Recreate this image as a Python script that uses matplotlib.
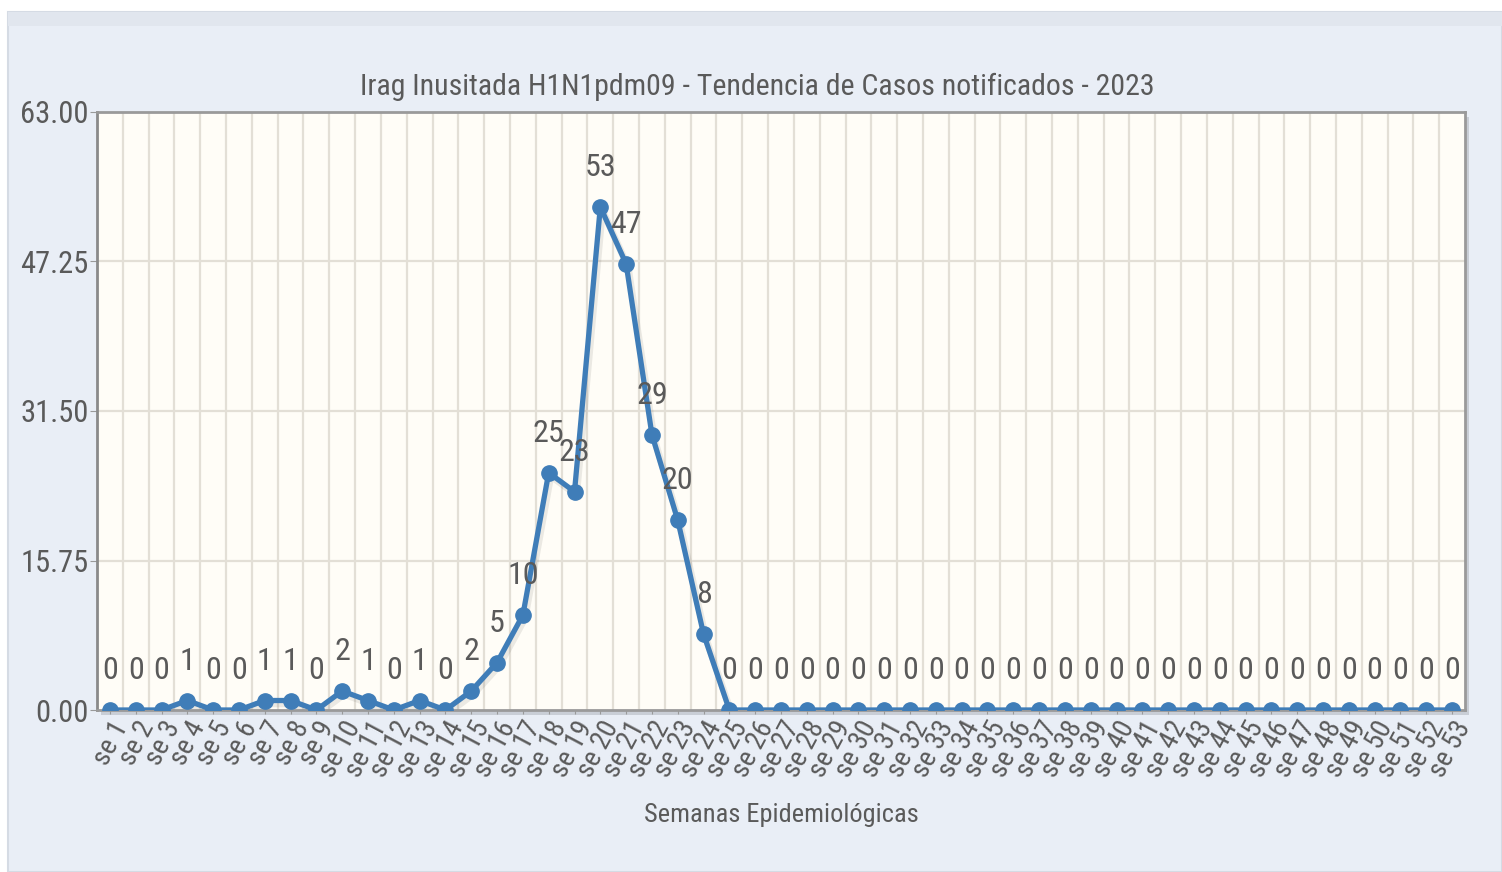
import numpy as np
import matplotlib.pyplot as plt
from matplotlib.patches import Rectangle
from matplotlib import font_manager

# ====== DATA ======
semanas = list(range(1, 54))
casos = [0, 0, 0, 1, 0, 0, 1, 1, 0, 2, 1, 0, 1, 0, 2, 5, 10, 25, 23, 53, 47, 29, 20, 8] + [0] * 29
y_ticks = [0.00, 15.75, 31.50, 47.25, 63.00]
titulo = 'Irag Inusitada H1N1pdm09 - Tendencia de Casos notificados - 2023'
x_titulo = 'Semanas Epidemiológicas'
# ==================

line_color = '#3f7db8'
text_color = '#5a5a5a'
grid_color = '#e3dfd6'

names = {f.name for f in font_manager.fontManager.ttflist}
fam = ['DejaVu Sans']
for cand in ['Roboto Condensed', 'Liberation Sans Narrow', 'Open Sans Condensed']:
    if cand in names:
        fam = [cand, 'DejaVu Sans']
        break
plt.rcParams['font.family'] = fam
plt.rcParams['font.stretch'] = 'condensed'

fig = plt.figure(figsize=(15.02, 8.72), dpi=100)
fig.patch.set_facecolor('white')
# panel background
fig.patches.append(Rectangle((8 / 1502, 0), 1 - 8 / 1502, 1 - 12 / 872, transform=fig.transFigure,
                             facecolor='#e9eef6', edgecolor='#d5dbe4', lw=1.5, zorder=-10))
fig.patches.append(Rectangle((8 / 1502, 1 - 26 / 872), 1 - 8 / 1502, 14 / 872, transform=fig.transFigure,
                             facecolor='#e1e6ee', edgecolor='none', zorder=-10))

left, right, top, bottom = 97, 1465, 112, 710
# drop shadow of the plot box
fig.patches.append(Rectangle(((left + 4) / 1502, 1 - (bottom + 5) / 872), (right - left) / 1502,
                             (bottom - top) / 872, transform=fig.transFigure,
                             facecolor='#c9ced6', edgecolor='none', zorder=-5))

ax = fig.add_axes([left / 1502, 1 - bottom / 872, (right - left) / 1502, (bottom - top) / 872])
ax.set_facecolor('#fffdf7')

x = np.array(semanas)
y = np.array(casos)

# shadow under the line
ax.plot(x + 0.08, y - 0.35, color='#000000', alpha=0.08, lw=5, zorder=2)
ax.plot(x, y, color=line_color, lw=3.8, marker='o', ms=11, zorder=3)

for xi, yi in zip(x, y):
    ax.annotate(str(yi), (xi, yi), xytext=(0, 18), textcoords='offset points',
                ha='center', va='bottom', fontsize=23, color=text_color, zorder=4)

ax.set_xlim(0.5, 53.5)
ax.set_ylim(0, 63)
ax.set_yticks(y_ticks)
ax.set_yticklabels([f'{v:.2f}' for v in y_ticks], fontsize=22, color=text_color)
ax.set_xticks(x)
ax.set_xticklabels([f'se {s}' for s in semanas], rotation=62, ha='right', va='top',
                   rotation_mode='anchor', fontsize=20, color=text_color)
ax.tick_params(axis='x', length=3, color='#999999', pad=2)
ax.tick_params(axis='y', length=5, color='#999999', pad=1)

for v in np.arange(1.5, 53.5, 1):
    ax.axvline(v, color=grid_color, lw=1.6, zorder=1)
for v in y_ticks[1:-1]:
    ax.axhline(v, color=grid_color, lw=1.6, zorder=1)

for s in ax.spines.values():
    s.set_color('#9a9a9a')
    s.set_linewidth(2)
ax.spines['left'].set_color('#8a8a8a')

fig.text(757 / 1502, 1 - 87 / 872, titulo, ha='center', va='center', fontsize=21.5, color=text_color)
fig.text(781 / 1502, 1 - 815 / 872, x_titulo, ha='center', va='center', fontsize=19, color=text_color)

fig.savefig('out.png', dpi=100)
